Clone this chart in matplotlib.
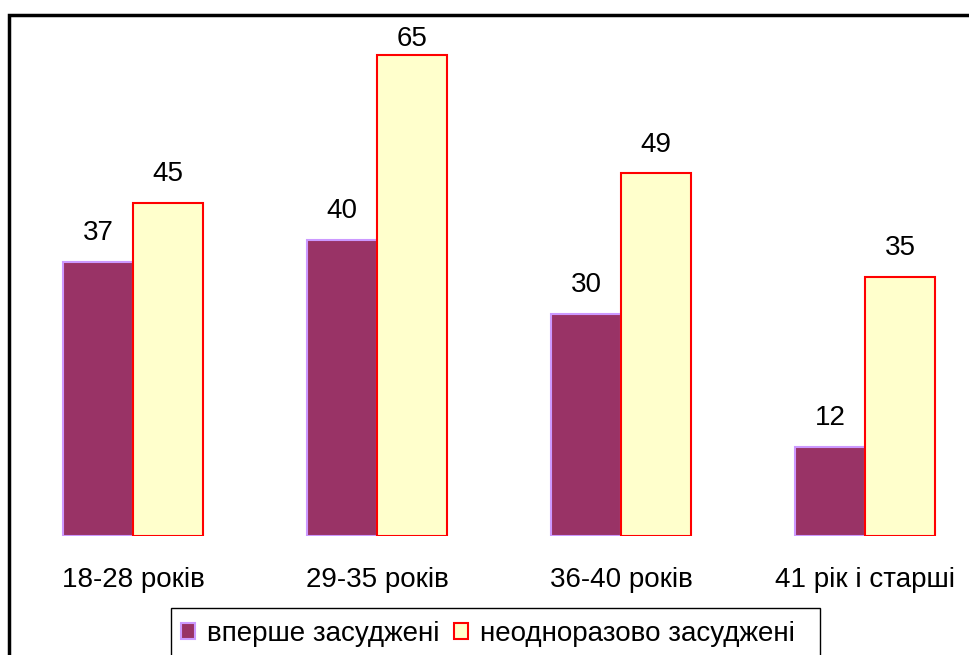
import matplotlib
matplotlib.use("Agg")
import matplotlib.pyplot as plt
from matplotlib.patches import Rectangle
import numpy as np

categories = ["18-28 років", "29-35 років", "36-40 років", "41 рік і старші"]
first_time = [37, 40, 30, 12]
repeat = [45, 65, 49, 35]
series_names = ["вперше засуджені", "неодноразово засуджені"]

W, H = 970, 655
fig = plt.figure(figsize=(W / 100, H / 100), dpi=100)
plt.rcParams['font.family'] = ['Liberation Sans', 'DejaVu Sans']

# axes: x from 10px to 970px, baseline at 536px, ylim top at 18px
ax = fig.add_axes([10 / W, (H - 536) / H, 960 / W, (536 - 18) / H])
ax.set_xlim(-0.504, 3.430)
ax.set_ylim(0, 70)
ax.axis('off')

x = np.arange(len(categories))
bw = 70 / 244
b1 = ax.bar(x - bw / 2, first_time, bw, color='#993366', edgecolor='#CC99FF', linewidth=1.5)
b2 = ax.bar(x + bw / 2, repeat, bw, color='#FFFFCC', edgecolor='#FF0000', linewidth=1.5)

label_gap = 3.9      # data units above bar top
label_max = 67.2     # labels cannot go above plot area
for bars, vals in ((b1, first_time), (b2, repeat)):
    for r, v in zip(bars, vals):
        ax.text(r.get_x() + r.get_width() / 2, min(v + label_gap, label_max), str(v),
                ha='center', va='center', fontsize=20)

for xi, c in zip(x, categories):
    ax.annotate(c, (xi, 0), xytext=(0, -44), textcoords='offset pixels',
                ha='center', va='center', fontsize=20)

# figure border
fig.patches.append(Rectangle((9 / W, -0.1), 1.2, (H - 15) / H + 0.1, transform=fig.transFigure,
                             fill=False, edgecolor='black', linewidth=2.5))
# legend frame
fig.patches.append(Rectangle((171 / W, -0.1), (820 - 171) / W, (H - 608) / H + 0.1,
                             transform=fig.transFigure, fill=False, edgecolor='black', linewidth=1))
leg = fig.legend([b1, b2], series_names, loc='center left', bbox_to_anchor=(181 / W, (H - 634) / H),
                 ncol=2, frameon=False, fontsize=20, handlelength=0.5, handleheight=0.5,
                 handletextpad=0.45, columnspacing=0.5, borderpad=0, borderaxespad=0)

fig.savefig('out.png', dpi=100)
